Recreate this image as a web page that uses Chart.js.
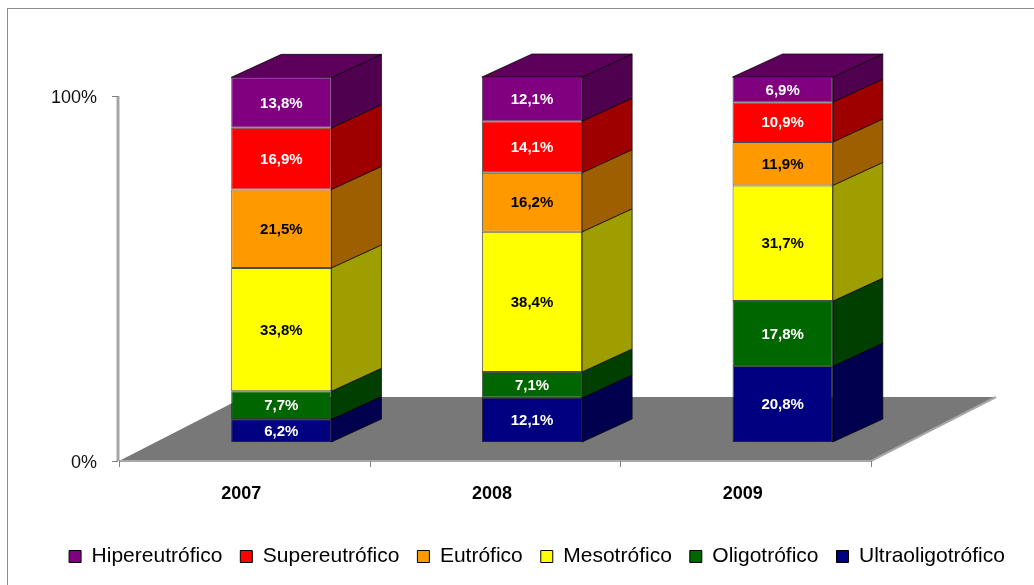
<!DOCTYPE html>
<html>
<head>
<meta charset="utf-8">
<script src="https://cdn.jsdelivr.net/npm/chart.js@4.4.0/dist/chart.umd.min.js"></script>
<style>
  html, body { margin: 0; padding: 0; background: #fff; }
</style>
</head>
<body>
<canvas id="trophicChart" width="1034" height="585"></canvas>
<script>
// data (percent of samples per trophic class)
const years = ["2007", "2008", "2009"];
const ultraoligotrofico = [6.2, 12.1, 20.8];
const oligotrofico = [7.7, 7.1, 17.8];
const mesotrofico = [33.8, 38.4, 31.7];
const eutrofico = [21.5, 16.2, 11.9];
const supereutrofico = [16.9, 14.1, 10.9];
const hipereutrofico = [13.8, 12.1, 6.9];
const yTicks = [0, 100];

const FONT = "Arial, 'Liberation Sans', sans-serif";
const PAD_BOTTOM = 8;

// 3d look
const DX = 50, DY = -23;          // depth of the bars
const FX = 37, FY = 19;           // bars sit back from the floor front edge
const FLOOR_DX = 125, FLOOR_DY = -64;

function darken(hex, f) {
  const n = parseInt(hex.slice(1), 16);
  const r = Math.round(((n >> 16) & 255) * f);
  const g = Math.round(((n >> 8) & 255) * f);
  const b = Math.round((n & 255) * f);
  return `rgb(${r},${g},${b})`;
}

const fmt = v => v.toFixed(1).replace('.', ',') + '%';

const box3d = {
  id: 'box3d',
  beforeDraw(chart) {
    const { ctx } = chart;
    ctx.save();
    ctx.strokeStyle = '#8c8c8c';
    ctx.lineWidth = 1;
    ctx.strokeRect(7.5, 8.5, 1040, 600);
    ctx.restore();
  },
  beforeDatasetsDraw(chart) {
    const { ctx, chartArea, scales: { x, y } } = chart;
    const y0 = y.getPixelForValue(0) + FY;
    const yTop = y.getPixelForValue(100) + FY;
    const left = chartArea.left - FX, right = chartArea.right - FX;
    ctx.save();
    // floor
    ctx.fillStyle = '#787878';
    ctx.beginPath();
    ctx.moveTo(left, y0);
    ctx.lineTo(right, y0);
    ctx.lineTo(right + FLOOR_DX, y0 + FLOOR_DY);
    ctx.lineTo(left + FLOOR_DX, y0 + FLOOR_DY);
    ctx.closePath();
    ctx.fill();
    ctx.strokeStyle = '#a8a8a8';
    ctx.lineWidth = 2;
    ctx.beginPath();
    ctx.moveTo(left, y0);
    ctx.lineTo(right, y0);
    ctx.lineTo(right + FLOOR_DX, y0 + FLOOR_DY);
    ctx.stroke();
    // value axis wall
    ctx.strokeStyle = '#a6a6a6';
    ctx.lineWidth = 3;
    ctx.beginPath();
    ctx.moveTo(left - 1, yTop);
    ctx.lineTo(left - 1, y0);
    ctx.stroke();
    ctx.strokeStyle = '#808080';
    ctx.lineWidth = 1;
    ctx.beginPath();
    yTicks.forEach(v => {
      const py = Math.round(y.getPixelForValue(v) + FY) + 0.5;
      ctx.moveTo(left - 7, py);
      ctx.lineTo(left - 1, py);
    });
    // category ticks along the floor front
    for (let i = 0; i <= years.length; i++) {
      const px = Math.round(left + (right - left) * i / years.length) + 0.5;
      ctx.moveTo(px, y0);
      ctx.lineTo(px, y0 + 6);
    }
    ctx.stroke();
    ctx.restore();
  },
  afterDatasetsDraw(chart) {
    const { ctx } = chart;
    const n = chart.data.datasets.length;
    ctx.save();
    ctx.strokeStyle = 'rgba(0,0,0,0.7)';
    ctx.lineWidth = 1;
    chart.data.datasets.forEach((ds, i) => {
      const meta = chart.getDatasetMeta(i);
      meta.data.forEach(bar => {
        const { x, y, base, width } = bar.getProps(['x', 'y', 'base', 'width'], true);
        const l = x - width / 2, r = x + width / 2;
        ctx.fillStyle = darken(ds.backgroundColor, 0.62);
        ctx.beginPath();
        ctx.moveTo(r, y);
        ctx.lineTo(r + DX, y + DY);
        ctx.lineTo(r + DX, base + DY);
        ctx.lineTo(r, base);
        ctx.closePath();
        ctx.fill();
        ctx.stroke();
        if (i === n - 1) {
          ctx.fillStyle = darken(ds.backgroundColor, 0.72);
          ctx.beginPath();
          ctx.moveTo(l, y);
          ctx.lineTo(l + DX, y + DY);
          ctx.lineTo(r + DX, y + DY);
          ctx.lineTo(r, y);
          ctx.closePath();
          ctx.fill();
          ctx.stroke();
        }
      });
    });
    // value labels
    ctx.font = `bold 15px ${FONT}`;
    ctx.textAlign = 'center';
    ctx.textBaseline = 'middle';
    chart.data.datasets.forEach((ds, i) => {
      const meta = chart.getDatasetMeta(i);
      meta.data.forEach((bar, j) => {
        const { x, y, base } = bar.getProps(['x', 'y', 'base'], true);
        ctx.fillStyle = ds.labelColor;
        ctx.fillText(fmt(ds.data[j]), x, (y + base) / 2 + 1);
      });
    });
    ctx.restore();
  }
};

const datasets = [
  { label: "Ultraoligotrófico", data: ultraoligotrofico, backgroundColor: "#000080", labelColor: "#fff" },
  { label: "Oligotrófico", data: oligotrofico, backgroundColor: "#006600", labelColor: "#fff" },
  { label: "Mesotrófico", data: mesotrofico, backgroundColor: "#ffff00", labelColor: "#000" },
  { label: "Eutrófico", data: eutrofico, backgroundColor: "#ff9900", labelColor: "#000" },
  { label: "Supereutrófico", data: supereutrofico, backgroundColor: "#ff0000", labelColor: "#fff" },
  { label: "Hipereutrófico", data: hipereutrofico, backgroundColor: "#800080", labelColor: "#fff" }
].map(d => ({ ...d, borderColor: 'rgba(0,0,0,0.7)', borderWidth: 1, borderSkipped: false }));

new Chart(document.getElementById('trophicChart'), {
  type: 'bar',
  data: { labels: years, datasets },
  options: {
    responsive: false,
    animation: false,
    barPercentage: 0.4,
    categoryPercentage: 1,
    layout: { padding: { left: 40, top: 77, right: 0, bottom: PAD_BOTTOM } },
    plugins: {
      tooltip: { enabled: false },
      legend: {
        position: 'bottom',
        reverse: true,
        labels: {
          font: { family: FONT, size: 21 },
          color: '#000',
          boxWidth: 12,
          boxHeight: 12,
          padding: 18,
          generateLabels: chart => Chart.defaults.plugins.legend.labels.generateLabels(chart)
            .map(l => ({ ...l, strokeStyle: '#000', lineWidth: 1 }))
        }
      }
    },
    scales: {
      x: {
        stacked: true,
        grid: { display: false, drawTicks: false },
        border: { display: false },
        ticks: { font: { family: FONT, size: 18, weight: 'bold' }, color: '#000', labelOffset: -40, padding: 41 },
        afterFit: s => { s.height = 585 - 442 - s.chart.legend.height - PAD_BOTTOM; }
      },
      y: {
        stacked: true,
        min: 0,
        max: 100,
        grid: { display: false, drawTicks: false },
        border: { display: false },
        afterBuildTicks: s => { s.ticks = yTicks.map(v => ({ value: v })); },
        ticks: { font: { family: FONT, size: 18 }, color: '#111', labelOffset: 21, padding: 59, callback: v => v + '%' },
        afterFit: s => { s.width = 116; }
      },
      yRight: {
        type: 'linear',
        position: 'right',
        grid: { display: false, drawTicks: false },
        border: { display: false },
        ticks: { display: false },
        afterFit: s => { s.width = 126; }
      }
    }
  },
  plugins: [box3d]
});
</script>
</body>
</html>
